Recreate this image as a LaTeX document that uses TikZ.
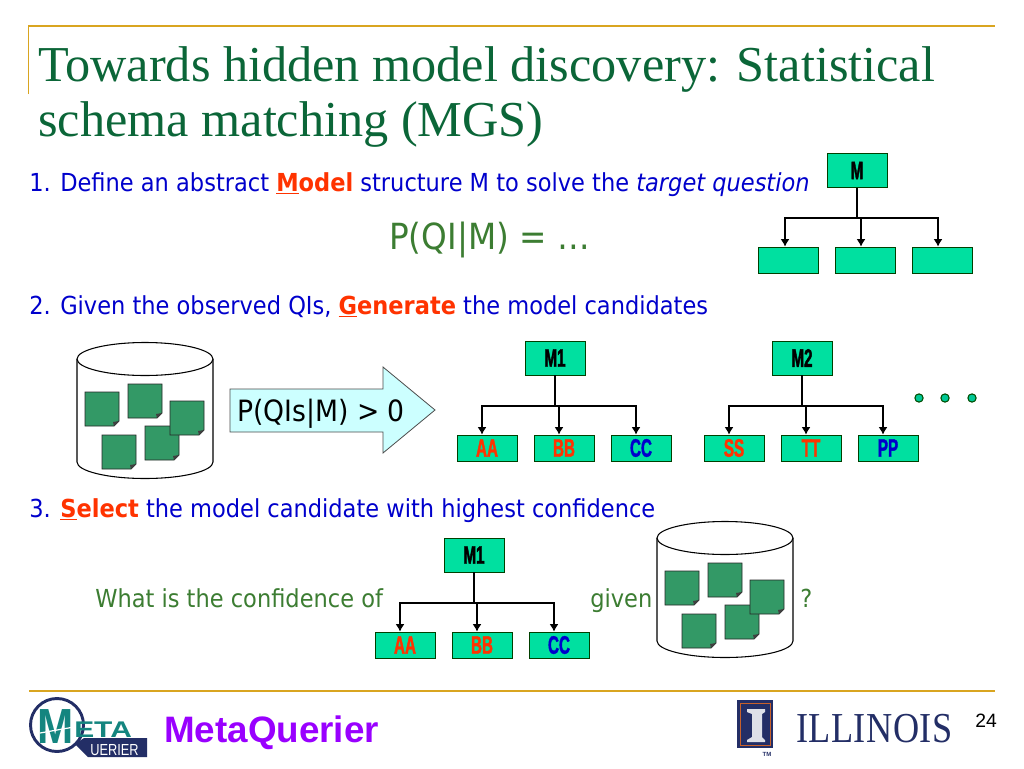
\documentclass[tikz,border=0pt]{standalone}
\usepackage{fontspec}
\usetikzlibrary{arrows.meta}
\setmainfont{Liberation Serif}
\newfontfamily\titlefont{Liberation Serif}
\newfontfamily\bodyfont[FakeStretch=0.908]{DejaVu Sans}
\newfontfamily\arialfont{Liberation Sans}
\newfontfamily\boxfont[FakeStretch=0.6,FakeBold=1.5]{Liberation Sans}
\newfontfamily\illfont[FakeStretch=0.85,LetterSpace=1.0]{Liberation Serif}
\definecolor{gold}{HTML}{D9A520}
\definecolor{titlecol}{HTML}{0B6638}
\definecolor{bluetxt}{HTML}{0000CC}
\definecolor{redtxt}{HTML}{FF3300}
\definecolor{greentxt}{HTML}{3C7D32}
\definecolor{boxgreen}{HTML}{00E0A0}
\definecolor{papergreen}{HTML}{339966}
\definecolor{arrowfill}{HTML}{CCFFFF}
\definecolor{navy}{HTML}{232E66}
\definecolor{metateal}{HTML}{14857F}
\definecolor{purpletxt}{HTML}{9900FF}
\definecolor{orangeill}{HTML}{C8602A}
\definecolor{dotfill}{HTML}{00C896}
\newcommand{\pxfont}[1]{\fontsize{#1}{#1}\selectfont}
\newcommand{\kw}[1]{{\bfseries\color{redtxt}#1}}
\newcommand{\paper}[2]{%
  \draw[paperstyle] (#1,#2) -- ++(34,0) -- ++(0,29) -- ++(-5,5) -- ++(-29,0) -- cycle;
  \fill[black!75] (#1+34,#2+29) -- ++(-5,5) -- ++(-1,-4) -- cycle;}
\newcommand{\drum}[2]{%
  \draw[drumstyle] (#1,#2) -- (#1,#2+103) arc[start angle=180,end angle=0,x radius=68,y radius=16.5] -- (#1+136,#2) arc[start angle=0,end angle=-180,x radius=68,y radius=16.5] -- cycle;
  \draw[drumstyle] (#1,#2) arc[start angle=180,end angle=0,x radius=68,y radius=16.5];
  \paper{#1+8}{#2+33}
  \paper{#1+51}{#2+25}
  \paper{#1+68}{#2+67}
  \paper{#1+93}{#2+42}
  \paper{#1+25}{#2+76}}
\newcommand{\tree}[9]{%
  \node[treebox,minimum height=25.5pt] (#1r) at (#2,#3+17) {#4};
  \node[treebox,minimum height=19.5pt,text=#7] (#1a) at (#5+30,#3+107) {#6};
  \node[treebox,minimum height=19.5pt,text=redtxt] (#1b) at (#5+107,#3+107) {#8};
  \node[treebox,minimum height=19.5pt,text=bluetxt] (#1c) at (#5+184,#3+107) {#9};
  \coordinate (#1bus) at (#2,#3+65);
  \draw[stem] (#1r.south) -- (#1bus);
  \draw[branch] (#1bus) -| ([xshift=-3.75pt]#1a.north);
  \draw[branch] (#1bus) -| ([xshift=-3.75pt]#1c.north);
  \coordinate (#1j) at ([xshift=-3.75pt]#1b.north |- #1bus);
  \draw[branch] (#1j) -- ([xshift=-3.75pt]#1b.north);}
\tikzset{
  x=0.75pt,y=-0.75pt,
  paperstyle/.style={draw=black!85,line width=0.6pt,fill=papergreen},
  drumstyle/.style={draw=black,line width=0.8pt,fill=white},
  treebox/.style={draw=black!75!green,line width=0.7pt,fill=boxgreen,minimum width=45pt,inner sep=0pt,font=\boxfont\bfseries\pxfont{19},text=black},
  stem/.style={draw=black,line width=1.3pt},
  branch/.style={draw=black,line width=0.8pt,-{Latex[length=5.5pt,width=6.5pt]}},
  txt/.style={anchor=base west,inner sep=0pt,font=\bodyfont\pxfont{18.6}},
  rule/.style={draw=gold,line width=1.4pt},
  dotstyle/.style={circle,draw=black!70!green,fill=dotfill,line width=0.8pt,minimum size=6.2pt,inner sep=0pt},
}
\begin{document}
\begin{tikzpicture}
\useasboundingbox[fill=white] (0,0) rectangle (1024,768);
\draw[rule] (28.5,94) -- (28.5,26) -- (995,26);
\draw[rule] (29,691) -- (995,691);
\node[anchor=base west,inner sep=0pt,font=\titlefont\pxfont{37.7},text=titlecol] (t1) at (38,81) {Towards hidden model discovery: Statistical};
\node[anchor=base west,inner sep=0pt,font=\titlefont\pxfont{37.7},text=titlecol] (t2) at (38,136) {schema matching (MGS)};
\node[txt,text=bluetxt] (l1) at (29,191) {1. Define an abstract \kw{\underline{M}odel} structure M to solve the {\itshape target question}};
\node[anchor=base west,inner sep=0pt,font=\bodyfont\pxfont{27},text=greentxt] (pq) at (389,249) {P(QI|M) = …};
\node[txt,text=bluetxt] (l2) at (29,314) {2. Given the observed QIs, \kw{\underline{G}enerate} the model candidates};
\node[txt,text=bluetxt] (l3) at (29,517) {3. \kw{\underline{S}elect} the model candidate with highest confidence};
\node[txt,text=greentxt] (w1) at (95,607) {What is the confidence of};
\node[txt,text=greentxt] (w2) at (590,607) {given};
\node[txt,text=greentxt] (w3) at (800,607) {?};
% tree 1
\node[treebox,minimum height=25.5pt] (ar) at (857,170.5) {M};
\node[treebox,minimum height=19.5pt] (aa) at (788,260) {};
\node[treebox,minimum height=19.5pt] (ab) at (865,260) {};
\node[treebox,minimum height=19.5pt] (ac) at (942,260) {};
\coordinate (abus) at (857,218);
\draw[stem] (ar.south) -- (abus);
\draw[branch] (abus) -| ([xshift=-2.25pt]aa.north);
\draw[branch] (abus) -| ([xshift=-3pt]ac.north);
\coordinate (aj) at ([xshift=-3pt]ab.north |- abus);
\draw[branch] (aj) -- ([xshift=-3pt]ab.north);
% trees 2-4
\tree{b}{555}{341}{M1}{457}{AA}{redtxt}{BB}{CC}
\tree{c}{802}{341}{M2}{704}{SS}{redtxt}{TT}{PP}
\tree{d}{474}{538}{M1}{375}{AA}{redtxt}{BB}{CC}
\node[dotstyle] (d1) at (919,398) {};
\node[dotstyle] (d2) at (945,398) {};
\node[dotstyle] (d3) at (972,398) {};
\drum{77}{359}
\drum{657}{538}
\draw[draw=black!70,line width=0.6pt,fill=arrowfill] (230,389) -- (383,389) -- (383,367) -- (435,410) -- (383,453) -- (383,432) -- (230,432) -- cycle;
\node[anchor=base west,inner sep=0pt,font=\bodyfont\pxfont{22},text=black] (pqi) at (237,421) {P(QIs|M) > 0};
% MetaQuerier logo
\draw[navy,line width=2.2pt,fill=white] (57,725) circle[radius=26.5];
\node[anchor=base west,inner sep=0pt,font=\arialfont\bfseries\pxfont{17},text=metateal] (leta) at (74,737) {\scalebox{1.32}[1]{ETA}};
\node[anchor=base,inner sep=0pt,font=\arialfont\bfseries\pxfont{37},text=metateal] (lm) at (56,743) {\scalebox{0.88}[1]{M}};
\draw[white,line width=0.9pt] (40,733) -- (74,727);
\fill[navy] (75,744) -- (84,738) -- (147,738) -- (147,757) -- (88,757) -- cycle;
\node[anchor=base west,inner sep=0pt,font=\arialfont\pxfont{12},text=white] (lq) at (90,755) {\scalebox{0.8}[1]{UERIER}};
\node[anchor=base west,inner sep=0pt,font=\arialfont\bfseries\pxfont{27.6},text=purpletxt] (mq) at (164,742) {MetaQuerier};
% Illinois logo
\fill[navy] (737,700) rectangle (773,748);
\draw[orangeill,line width=0.7pt] (740,703) rectangle (770,745);
\fill[white!85!navy] (747,709) -- (765,709) -- (765,712) -- (762,714) -- (762,737) -- (765,740) -- (765,742) -- (747,742) -- (747,740) -- (752,737) -- (752,714) -- (747,712) -- cycle;
\node[anchor=base west,inner sep=0pt,font=\illfont\pxfont{32},text=navy] (ill) at (796,742) {ILLINOIS};
\node[anchor=base,inner sep=0pt,font=\arialfont\bfseries\pxfont{4.5},text=navy] (tm) at (767,756) {TM};
\node[anchor=base west,inner sep=0pt,font=\arialfont\pxfont{14.5},text=black] (pg) at (975,727) {24};
\end{tikzpicture}
\end{document}
